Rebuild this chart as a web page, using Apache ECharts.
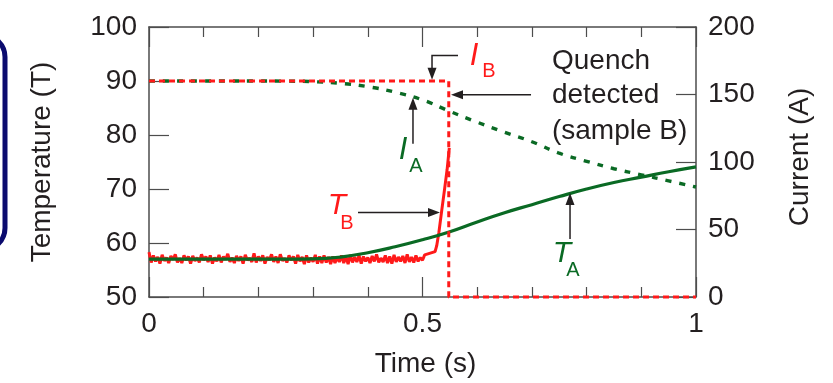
<!DOCTYPE html>
<html><head><meta charset="utf-8">
<script src="https://cdn.jsdelivr.net/npm/echarts@6/dist/echarts.min.js"></script>
<style>html,body{margin:0;padding:0;background:#fff}#c{width:833px;height:383px}</style>
</head><body><div id="c"></div>
<script>
// ---- data ----
const timeIA = [0,0.05,0.1,0.15,0.2,0.25,0.3,0.35,0.4,0.45,0.5,0.55,0.6,0.65,0.7,0.75,0.8,0.85,0.9,0.95,1.0];
const currentIA = [160,160,160,160,160,159.9,159.5,158.3,155.8,151.7,146,137.5,129.5,122,115,106.5,100.5,95,90.5,86,81.5];
const timeTA = [0,0.05,0.1,0.15,0.2,0.25,0.3,0.35,0.4,0.45,0.5,0.55,0.6,0.65,0.7,0.75,0.8,0.85,0.9,0.95,1.0];
const tempTA = [57,57,57,57,57,57,57.05,57.4,58.2,59.3,60.6,62.1,63.9,65.6,67.1,68.6,70.0,71.2,72.2,73.2,74.1];
const tbStep = 0.004;
const tempTBNoise = [58.3,56.4,57.7,56.6,57.4,56.2,57.8,56.7,57.3,56.3,57.6,56.9,57.9,56.4,57.2,56.3,57.7,56.8,57.5,56.2,
  57.6,56.7,57.3,56.4,57.9,56.8,57.5,56.5,57.7,56.2,57.3,56.6,57.8,56.4,57.5,56.9,58.0,56.5,57.3,56.3,
  57.6,56.7,57.5,56.2,57.8,56.8,57.2,56.5,58.1,56.4,57.5,56.7,57.7,56.2,57.4,56.8,57.9,56.5,57.5,56.3,
  57.9,56.7,57.2,56.4,57.7,56.8,57.5,56.2,57.8,56.6,57.4,56.1,57.7,56.4,57.3,56.5,57.8,56.2,57.5,56.3,
  57.7,56.4,57.4,56.1,57.5,56.3,57.3,56.5,57.7,56.3,57.5,56.1,57.8,56.4,57.4,56.5,57.7,56.2,57.5,56.6,
  57.3,56.3,57.6,56.6,57.9,56.4,57.2,56.5,57.7,56.3,57.5,56.2,57.8,56.5,57.4,56.6,57.6,56.3,57.9,56.5,
  57.4,56.4,57.7,56.6,57.3,56.8,57.8];
const timeTBRise = [0.523,0.526,0.53,0.535,0.54,0.545,0.549];
const tempTBRise = [58.4,59.5,62.0,65.9,69.7,73.6,77.6];
const timeIB = [0,0.548,0.548,1];
const currentIB = [160,160,0,0];
const xTicks = [0,0.5,1];
const leftTicks = [50,60,70,80,90,100];
const rightTicks = [0,50,100,150,200];

// ---- build ----
const RED = '#ff1a1a', GREEN = '#0a6a24', INK = '#231f20', FRAME = '#4d4d4d';
const FONT = '"Liberation Sans", Arial, sans-serif';
const pair = (xs, ys) => xs.map((x, i) => [x, ys[i]]);
const tbData = tempTBNoise.map((v, i) => [i * tbStep, v]).concat(pair(timeTBRise, tempTBRise));

const frameLine = {show: true, onZero: false, lineStyle: {color: FRAME, width: 1.5}};
const tickStyle = {color: FRAME, width: 1.2};
const labelStyle = {fontSize: 28, color: INK, fontFamily: FONT};

const chart = echarts.init(document.getElementById('c'), null, {renderer: 'canvas'});
const option = {
  animation: false,
  backgroundColor: '#fff',
  grid: {left: 149, right: 137, top: 27, bottom: 81},
  xAxis: [
    {type: 'value', position: 'bottom', min: xTicks[0], max: xTicks[2], interval: 0.5,
     axisLine: frameLine, axisTick: {inside: true, length: 20, lineStyle: tickStyle},
     minorTick: {show: true, splitNumber: 5, length: 10, lineStyle: tickStyle},
     axisLabel: Object.assign({margin: 13, formatter: v => String(v)}, labelStyle),
     splitLine: {show: false},
     name: 'Time (s)', nameLocation: 'middle', nameGap: 53, nameTextStyle: Object.assign({padding: [0, 0, 0, 6]}, labelStyle)},
    {type: 'value', position: 'top', min: 0, max: 1, interval: 0.5,
     axisLine: frameLine, axisTick: {inside: true, length: 20, lineStyle: tickStyle},
     minorTick: {show: true, splitNumber: 5, length: 10, lineStyle: tickStyle},
     axisLabel: {show: false}, splitLine: {show: false}}
  ],
  yAxis: [
    {type: 'value', position: 'left', min: leftTicks[0], max: leftTicks[5], interval: 10,
     axisLine: frameLine, axisTick: {inside: true, length: 20, lineStyle: tickStyle},
     axisLabel: Object.assign({margin: 12}, labelStyle), splitLine: {show: false},
     name: 'Temperature (T)', nameLocation: 'middle', nameGap: 93, nameTextStyle: labelStyle},
    {type: 'value', position: 'right', min: rightTicks[0], max: rightTicks[4], interval: 50,
     axisLine: frameLine, axisTick: {inside: true, length: 20, lineStyle: tickStyle},
     axisLabel: Object.assign({margin: 12, padding: [0, 0, 10, 0]}, labelStyle), splitLine: {show: false},
     name: 'Current (A)', nameLocation: 'middle', nameGap: 90, nameTextStyle: Object.assign({padding: [0, 0, 0, 10]}, labelStyle)}
  ],
  series: [
    {name: 'T_B', type: 'line', xAxisIndex: 0, yAxisIndex: 0, data: tbData, showSymbol: false,
     lineStyle: {color: RED, width: 3}, z: 2},
    {name: 'T_A', type: 'line', xAxisIndex: 0, yAxisIndex: 0, data: pair(timeTA, tempTA), smooth: true, showSymbol: false,
     lineStyle: {color: GREEN, width: 3.2}, z: 3},
    {name: 'I_A', type: 'line', xAxisIndex: 0, yAxisIndex: 1, data: pair(timeIA, currentIA), smooth: true, showSymbol: false,
     lineStyle: {color: GREEN, width: 3.4, type: [6, 8]}, z: 4},
    {name: 'I_B', type: 'line', xAxisIndex: 0, yAxisIndex: 1, data: pair(timeIB, currentIB), showSymbol: false, clip: false,
     lineStyle: {color: RED, width: 3, type: [6, 4]}, z: 5}
  ]
};
chart.setOption(option);

// ---- annotations (placed in data coordinates) ----
const P = (t, T) => chart.convertToPixel({xAxisIndex: 0, yAxisIndex: 0}, [t, T]);
function arrow(pts) {
  const px = pts.map(p => P(p[0], p[1]));
  const n = px.length, a = px[n - 2], b = px[n - 1];
  let dx = b[0] - a[0], dy = b[1] - a[1]; const len = Math.hypot(dx, dy); dx /= len; dy /= len;
  const L = 12, W = 4.5;
  const base = [b[0] - dx * L, b[1] - dy * L];
  const line = px.slice(0, n - 1).concat([[base[0] + dx * 2, base[1] + dy * 2]]);
  return [
    {type: 'polyline', shape: {points: line}, style: {stroke: INK, lineWidth: 1.5, fill: null}, z: 10},
    {type: 'polygon', shape: {points: [b, [base[0] - dy * W, base[1] + dx * W], [base[0] + dy * W, base[1] - dx * W]]},
     style: {fill: INK}, z: 10}
  ];
}
function label(t, T, text, color, size, italic, align) {
  const p = P(t, T);
  return {type: 'text', x: p[0], y: p[1], z: 11,
    style: {text: text, fill: color, font: (italic ? 'italic ' : '') + size + 'px ' + FONT,
      align: align || 'center', verticalAlign: 'middle'}};
}
const g = [];
// navy frame fragment at the left edge
g.push({type: 'rect', shape: {x: -40, y: 35, width: 45, height: 215, r: 22},
  style: {fill: null, stroke: '#0b0b6e', lineWidth: 5}, z: 12});
g.push(...arrow([[0.5649, 94.73], [0.5174, 94.73], [0.5174, 90.25]]));
g.push(label(0.5941, 94.55, 'I', RED, 31, true));
g.push(label(0.6216, 91.82, 'B', RED, 20, false));
g.push(...arrow([[0.6984, 87.45], [0.5521, 87.45]]));
g.push(label(0.7367, 93.64, 'Quench', INK, 28, false, 'left'));
g.push(label(0.7367, 87.27, 'detected', INK, 28, false, 'left'));
g.push(label(0.7367, 80.73, '(sample B)', INK, 28, false, 'left'));
g.push(...arrow([[0.4826, 78.36], [0.4826, 86.91]]));
g.push(label(0.4644, 77.09, 'I', GREEN, 31, true));
g.push(label(0.4881, 74.18, 'A', GREEN, 20, false));
g.push(...arrow([[0.3821, 65.64], [0.532, 65.64]]));
g.push(label(0.3437, 66.91, 'T', RED, 30, true));
g.push(label(0.362, 63.64, 'B', RED, 20, false));
g.push(...arrow([[0.7697, 60.73], [0.7697, 69.27]]));
g.push(label(0.755, 58.0, 'T', GREEN, 30, true));
g.push(label(0.7751, 54.91, 'A', GREEN, 20, false));
chart.setOption({graphic: g});
</script>
</body></html>
